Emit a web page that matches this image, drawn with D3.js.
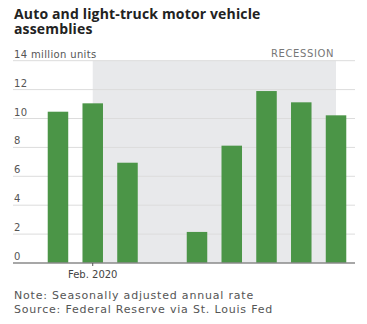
<!DOCTYPE html>
<html>
<head>
<meta charset="utf-8">
<script src="https://cdn.jsdelivr.net/npm/d3@7"></script>
<style>
  body { margin: 0; background: #fff; }
  svg { display: block; font-family: "DejaVu Sans", sans-serif; }
</style>
</head>
<body>
<div id="chart"></div>
<script>
// monthly data, 2020
const months = ['Jan', 'Feb', 'Mar', 'Apr', 'May', 'Jun', 'Jul', 'Aug', 'Sep'];
const assemblies = [10.47, 11.05, 6.94, 0, 2.15, 8.12, 11.9, 11.12, 10.22];
const yTicks = [0, 2, 4, 6, 8, 10, 12, 14];
const xLabels = [{ month: 'Feb', text: 'Feb. 2020' }];
const recession = ['Feb', 'Sep'];

const W = 367, H = 324;
const svg = d3.select('#chart').append('svg')
  .attr('width', W)
  .attr('height', H);

const x = d3.scaleBand()
  .domain(months)
  .range([40.6, 353.4])
  .paddingInner(0.41)
  .paddingOuter(0.205);

const y = d3.scaleLinear()
  .domain([0, 14])
  .range([263, 60.7]);

// title
const title = svg.append('g')
  .attr('font-family', '"Open Sans", sans-serif')
  .attr('font-size', 14).attr('font-weight', 700).attr('fill', '#222')
  .attr('letter-spacing', 0.15);
title.append('text').attr('x', 14).attr('y', 18.5).text('Auto and light-truck motor vehicle');
title.append('text').attr('x', 14).attr('y', 34).text('assemblies');

// recession shading
const rx0 = x(recession[0]) + x.bandwidth() / 2;
const rx1 = x(recession[1]) + x.bandwidth() / 2;
svg.append('rect')
  .attr('x', rx0).attr('y', y(14))
  .attr('width', rx1 - rx0).attr('height', y(0) - y(14))
  .attr('fill', '#e8e9eb');

svg.append('text')
  .attr('x', rx1 - 2).attr('y', y(14) - 4)
  .attr('text-anchor', 'end')
  .attr('font-size', 10).attr('letter-spacing', 0.6).attr('fill', '#777')
  .text('RECESSION');

// gridlines
svg.append('g')
  .selectAll('line')
  .data(yTicks.filter(d => d > 0))
  .join('line')
  .attr('x1', 13).attr('x2', 355)
  .attr('y1', d => y(d)).attr('y2', d => y(d))
  .attr('stroke', '#dcdcdc').attr('stroke-width', 1);

// y labels
svg.append('g')
  .selectAll('text')
  .data(yTicks)
  .join('text')
  .attr('x', 14)
  .attr('y', d => y(d) - 3)
  .attr('font-size', 10).attr('letter-spacing', 0.35).attr('fill', '#555')
  .text(d => d === 14 ? '14 million units' : d);

// bars
svg.append('g')
  .selectAll('rect')
  .data(months.map((m, i) => ({ m, v: assemblies[i] })))
  .join('rect')
  .attr('x', d => x(d.m))
  .attr('y', d => y(d.v))
  .attr('width', x.bandwidth())
  .attr('height', d => y(0) - y(d.v))
  .attr('fill', '#4b9547');

// baseline
svg.append('line')
  .attr('x1', 13).attr('x2', 355)
  .attr('y1', y(0)).attr('y2', y(0))
  .attr('stroke', '#8a8a8a').attr('stroke-width', 1.5);

// x axis labels and ticks
xLabels.forEach(l => {
  const cx = x(l.month) + x.bandwidth() / 2;
  svg.append('line')
    .attr('x1', cx).attr('x2', cx)
    .attr('y1', y(0)).attr('y2', y(0) + 3)
    .attr('stroke', '#555').attr('stroke-width', 1);
  svg.append('text')
    .attr('x', cx).attr('y', 278)
    .attr('text-anchor', 'middle')
    .attr('font-size', 10).attr('fill', '#444')
    .text(l.text);
});

// notes
const notes = svg.append('g')
  .attr('font-size', 11).attr('letter-spacing', 0.8).attr('fill', '#555');
notes.append('text').attr('x', 14).attr('y', 299)
  .text('Note: Seasonally adjusted annual rate');
notes.append('text').attr('x', 14).attr('y', 312.5)
  .text('Source: Federal Reserve via St. Louis Fed');
</script>
</body>
</html>
